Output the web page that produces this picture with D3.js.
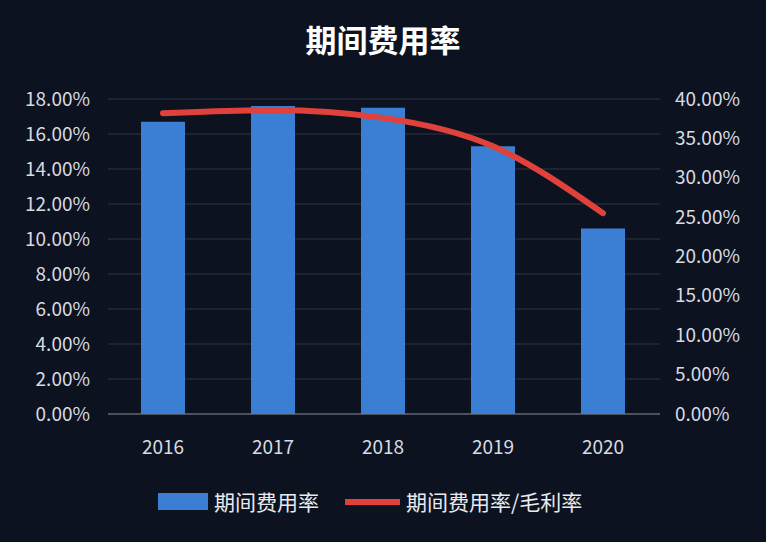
<!DOCTYPE html>
<html><head><meta charset="utf-8">
<script src="https://cdn.jsdelivr.net/npm/d3@7"></script>
<style>body{margin:0;background:#0d1220}</style>
</head><body>
<svg id="chart" width="766" height="542"></svg>
<script>
const years = ["2016", "2017", "2018", "2019", "2020"];
const expenseRate = [16.7, 17.6, 17.5, 15.3, 10.6];
const expenseToGross = [38.2, 38.6, 37.6, 34.0, 25.5];
const leftTicks = [0, 2, 4, 6, 8, 10, 12, 14, 16, 18];
const rightTicks = [0, 5, 10, 15, 20, 25, 30, 35, 40];

const svg = d3.select("#chart");
const font = "'Noto Sans CJK SC', 'Noto Sans', sans-serif";
svg.append("rect").attr("width", 766).attr("height", 542).attr("fill", "#0d1220");

const x = d3.scaleBand().domain(years).range([108, 658]).paddingInner(0.6).paddingOuter(0.3);
const yL = d3.scaleLinear().domain([0, 18]).range([414, 99]);
const yR = d3.scaleLinear().domain([0, 40]).range([414, 99]);

// gridlines
svg.selectAll("line.grid").data(leftTicks).join("line")
  .attr("class", "grid")
  .attr("x1", 108).attr("x2", 660)
  .attr("y1", d => yL(d)).attr("y2", d => yL(d))
  .attr("stroke", d => d === 0 ? "#8a8f99" : "#2e3442").attr("stroke-width", 1);

// bars
svg.selectAll("rect.bar").data(years).join("rect")
  .attr("class", "bar")
  .attr("x", d => x(d))
  .attr("width", x.bandwidth())
  .attr("y", (d, i) => yL(expenseRate[i]))
  .attr("height", (d, i) => yL(0) - yL(expenseRate[i]))
  .attr("fill", "#3b7fd4");

// line
const line = d3.line()
  .x((d, i) => x(years[i]) + x.bandwidth() / 2)
  .y(d => yR(d))
  .curve(d3.curveMonotoneX);
svg.append("path").datum(expenseToGross)
  .attr("d", line).attr("fill", "none")
  .attr("stroke", "#e0413a").attr("stroke-width", 6).attr("stroke-linecap", "round");

// axes
const axL = svg.append("g").attr("transform", "translate(93,0)")
  .call(d3.axisLeft(yL).tickValues(leftTicks).tickSize(0).tickFormat(d => d.toFixed(2) + "%"));
const axR = svg.append("g").attr("transform", "translate(672,0)")
  .call(d3.axisRight(yR).tickValues(rightTicks).tickSize(0).tickFormat(d => d.toFixed(2) + "%"));
const axB = svg.append("g").attr("transform", "translate(0,434)")
  .call(d3.axisBottom(x).tickSize(0));
[axL, axR, axB].forEach(g => {
  g.select(".domain").remove();
  g.selectAll("text").attr("fill", "#d8dbe0").style("font-family", font).style("font-size", "19px");
});
axB.selectAll("text").attr("dy", "0.9em");

// title
svg.append("text").attr("x", 383).attr("y", 52).attr("text-anchor", "middle")
  .attr("fill", "#fff").style("font-family", font).style("font-weight", "bold").style("font-size", "31px")
  .text("期间费用率");

// legend
const lg = svg.append("g");
lg.append("rect").attr("x", 158).attr("y", 493).attr("width", 50).attr("height", 17).attr("fill", "#3b7fd4");
lg.append("text").attr("x", 214).attr("y", 510).attr("fill", "#e8eaee").style("font-family", font).style("font-size", "21px").text("期间费用率");
lg.append("line").attr("x1", 345).attr("x2", 400).attr("y1", 502).attr("y2", 502).attr("stroke", "#e0413a").attr("stroke-width", 6);
lg.append("text").attr("x", 406).attr("y", 510).attr("fill", "#e8eaee").style("font-family", font).style("font-size", "21px").text("期间费用率/毛利率");
</script>
</body></html>
